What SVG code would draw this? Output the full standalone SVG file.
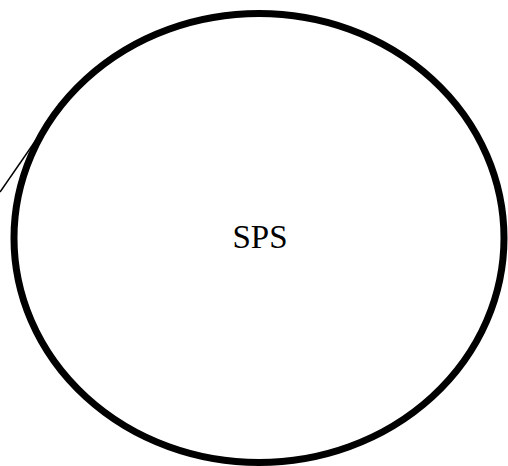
<svg xmlns="http://www.w3.org/2000/svg" width="508" height="466" viewBox="0 0 508 466">
<style>
.node{fill:#fff;stroke:#000;stroke-width:7}
.lbl{font-family:"Liberation Serif","Times New Roman",serif;font-size:33px;fill:#000;text-anchor:middle}
.conn{stroke:#000;stroke-width:1.5;fill:none}
</style>
<rect width="508" height="466" fill="#fff"/>
<g id="connectors">
<line class="conn" x1="0" y1="192" x2="36" y2="140"/>
</g>
<g id="SPS">
<ellipse class="node" cx="259" cy="238" rx="245" ry="224.5"/>
<text class="lbl" x="260" y="248">SPS</text>
</g>
</svg>
